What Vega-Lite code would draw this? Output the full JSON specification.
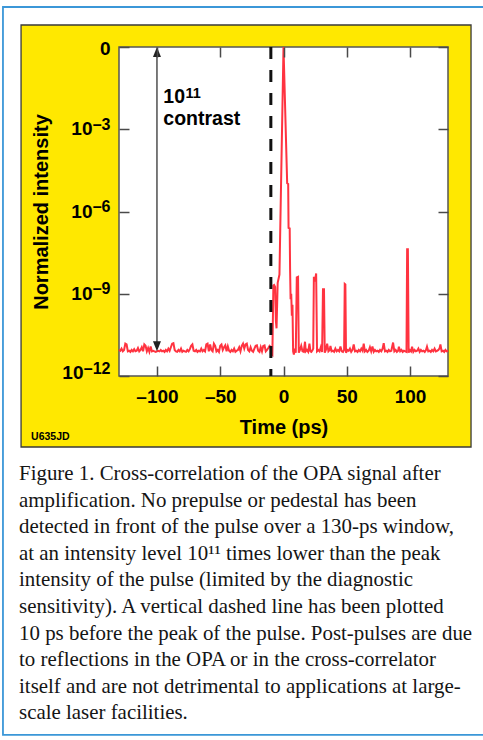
{
  "$schema": "https://vega.github.io/schema/vega-lite/v6.json",
  "width": 329,
  "height": 329,
  "autosize": {"type": "none"},
  "padding": {"left": 119, "top": 47, "right": 35, "bottom": 364},
  "background": "white",
  "config": {
    "font": "Liberation Sans",
    "view": {"stroke": null},
    "axis": {
      "domain": false,
      "grid": false,
      "labelFont": "Liberation Sans",
      "labelFontWeight": "bold",
      "labelFontSize": 19,
      "labelColor": "#000000",
      "titleFont": "Liberation Sans",
      "titleFontWeight": "bold",
      "titleFontSize": 20,
      "titleColor": "#000000",
      "tickColor": "#4a4a4a",
      "tickWidth": 1.5,
      "labelOverlap": false,
      "labelFlush": false
    }
  },
  "datasets": {
    "signal": [
      {"time_ps": -130, "log10_intensity": -11.05}, {"time_ps": -129, "log10_intensity": -11.08}, {"time_ps": -128, "log10_intensity": -11.0}, {"time_ps": -127, "log10_intensity": -11.1},
      {"time_ps": -126, "log10_intensity": -11.05}, {"time_ps": -125, "log10_intensity": -10.82}, {"time_ps": -124, "log10_intensity": -10.85}, {"time_ps": -123, "log10_intensity": -11.1},
      {"time_ps": -122, "log10_intensity": -11.08}, {"time_ps": -121, "log10_intensity": -11.12}, {"time_ps": -120, "log10_intensity": -11.05}, {"time_ps": -119, "log10_intensity": -11.1},
      {"time_ps": -118, "log10_intensity": -11.02}, {"time_ps": -117, "log10_intensity": -11.1}, {"time_ps": -116, "log10_intensity": -11.08}, {"time_ps": -115, "log10_intensity": -10.98},
      {"time_ps": -114, "log10_intensity": -11.1}, {"time_ps": -113, "log10_intensity": -11.05}, {"time_ps": -112, "log10_intensity": -10.95}, {"time_ps": -111, "log10_intensity": -11.1},
      {"time_ps": -110, "log10_intensity": -10.85}, {"time_ps": -109, "log10_intensity": -10.9}, {"time_ps": -108, "log10_intensity": -11.1}, {"time_ps": -107, "log10_intensity": -10.98},
      {"time_ps": -106, "log10_intensity": -11.12}, {"time_ps": -105, "log10_intensity": -10.92}, {"time_ps": -104, "log10_intensity": -11.1}, {"time_ps": -103, "log10_intensity": -11.08},
      {"time_ps": -102, "log10_intensity": -11.1}, {"time_ps": -101, "log10_intensity": -11.12}, {"time_ps": -100, "log10_intensity": -11.1}, {"time_ps": -99, "log10_intensity": -11.08},
      {"time_ps": -98, "log10_intensity": -11.1}, {"time_ps": -97, "log10_intensity": -11.05}, {"time_ps": -96, "log10_intensity": -11.1}, {"time_ps": -95, "log10_intensity": -11.08},
      {"time_ps": -94, "log10_intensity": -11.12}, {"time_ps": -93, "log10_intensity": -11.05}, {"time_ps": -92, "log10_intensity": -11.1}, {"time_ps": -91, "log10_intensity": -11.0},
      {"time_ps": -90, "log10_intensity": -11.08}, {"time_ps": -89, "log10_intensity": -10.95}, {"time_ps": -88, "log10_intensity": -10.82}, {"time_ps": -87, "log10_intensity": -10.8},
      {"time_ps": -86, "log10_intensity": -11.05}, {"time_ps": -85, "log10_intensity": -11.1}, {"time_ps": -84, "log10_intensity": -11.12}, {"time_ps": -83, "log10_intensity": -11.05},
      {"time_ps": -82, "log10_intensity": -11.1}, {"time_ps": -81, "log10_intensity": -11.0}, {"time_ps": -80, "log10_intensity": -11.12}, {"time_ps": -79, "log10_intensity": -11.08},
      {"time_ps": -78, "log10_intensity": -11.1}, {"time_ps": -77, "log10_intensity": -11.12}, {"time_ps": -76, "log10_intensity": -11.05}, {"time_ps": -75, "log10_intensity": -11.1},
      {"time_ps": -74, "log10_intensity": -11.02}, {"time_ps": -73, "log10_intensity": -10.9}, {"time_ps": -72, "log10_intensity": -10.85}, {"time_ps": -71, "log10_intensity": -11.08},
      {"time_ps": -70, "log10_intensity": -11.1}, {"time_ps": -69, "log10_intensity": -11.05}, {"time_ps": -68, "log10_intensity": -11.12}, {"time_ps": -67, "log10_intensity": -11.08},
      {"time_ps": -66, "log10_intensity": -11.1}, {"time_ps": -65, "log10_intensity": -11.0}, {"time_ps": -64, "log10_intensity": -11.1}, {"time_ps": -63, "log10_intensity": -11.05},
      {"time_ps": -62, "log10_intensity": -11.1}, {"time_ps": -61, "log10_intensity": -10.85}, {"time_ps": -60, "log10_intensity": -10.82}, {"time_ps": -59, "log10_intensity": -11.1},
      {"time_ps": -58, "log10_intensity": -10.85}, {"time_ps": -57, "log10_intensity": -11.05}, {"time_ps": -56, "log10_intensity": -11.1}, {"time_ps": -55, "log10_intensity": -10.82},
      {"time_ps": -54, "log10_intensity": -10.9}, {"time_ps": -53, "log10_intensity": -11.1}, {"time_ps": -52, "log10_intensity": -11.05}, {"time_ps": -51, "log10_intensity": -11.12},
      {"time_ps": -50, "log10_intensity": -10.9}, {"time_ps": -49, "log10_intensity": -10.85}, {"time_ps": -48, "log10_intensity": -11.05}, {"time_ps": -47, "log10_intensity": -10.95},
      {"time_ps": -46, "log10_intensity": -10.88}, {"time_ps": -45, "log10_intensity": -11.1}, {"time_ps": -44, "log10_intensity": -10.92}, {"time_ps": -43, "log10_intensity": -11.08},
      {"time_ps": -42, "log10_intensity": -11.12}, {"time_ps": -41, "log10_intensity": -11.05}, {"time_ps": -40, "log10_intensity": -11.1}, {"time_ps": -39, "log10_intensity": -11.0},
      {"time_ps": -38, "log10_intensity": -11.12}, {"time_ps": -37, "log10_intensity": -11.08}, {"time_ps": -36, "log10_intensity": -11.05}, {"time_ps": -35, "log10_intensity": -10.95},
      {"time_ps": -34, "log10_intensity": -11.1}, {"time_ps": -33, "log10_intensity": -10.9}, {"time_ps": -32, "log10_intensity": -10.82}, {"time_ps": -31, "log10_intensity": -11.0},
      {"time_ps": -30, "log10_intensity": -10.85}, {"time_ps": -29, "log10_intensity": -10.82}, {"time_ps": -28, "log10_intensity": -11.05}, {"time_ps": -27, "log10_intensity": -11.1},
      {"time_ps": -26, "log10_intensity": -10.95}, {"time_ps": -25, "log10_intensity": -11.08}, {"time_ps": -24, "log10_intensity": -11.12}, {"time_ps": -23, "log10_intensity": -11.0},
      {"time_ps": -22, "log10_intensity": -10.9}, {"time_ps": -21, "log10_intensity": -10.88}, {"time_ps": -20, "log10_intensity": -11.08}, {"time_ps": -19, "log10_intensity": -11.12},
      {"time_ps": -18, "log10_intensity": -10.95}, {"time_ps": -17, "log10_intensity": -11.1}, {"time_ps": -16, "log10_intensity": -10.9}, {"time_ps": -15, "log10_intensity": -10.88},
      {"time_ps": -14, "log10_intensity": -11.1}, {"time_ps": -13, "log10_intensity": -11.05}, {"time_ps": -12, "log10_intensity": -10.98}, {"time_ps": -11, "log10_intensity": -10.9},
      {"time_ps": -10, "log10_intensity": -10.95}, {"time_ps": -9.5, "log10_intensity": -11.2}, {"time_ps": -8.8, "log10_intensity": -11.23}, {"time_ps": -8.0, "log10_intensity": -8.7},
      {"time_ps": -7.4, "log10_intensity": -8.68}, {"time_ps": -6.6, "log10_intensity": -8.75}, {"time_ps": -6.0, "log10_intensity": -10.0}, {"time_ps": -5.5, "log10_intensity": -10.26},
      {"time_ps": -4.6, "log10_intensity": -8.6}, {"time_ps": -3.2, "log10_intensity": -8.3}, {"time_ps": 0, "log10_intensity": 0},
      {"time_ps": 2.9, "log10_intensity": -4.97}, {"time_ps": 3.7, "log10_intensity": -5.0}, {"time_ps": 4.0, "log10_intensity": -6.6}, {"time_ps": 4.9, "log10_intensity": -6.62},
      {"time_ps": 5.2, "log10_intensity": -8.1}, {"time_ps": 5.6, "log10_intensity": -9.2}, {"time_ps": 6.1, "log10_intensity": -9.0}, {"time_ps": 6.6, "log10_intensity": -9.8},
      {"time_ps": 7.1, "log10_intensity": -9.4}, {"time_ps": 7.6, "log10_intensity": -11.1}, {"time_ps": 8.2, "log10_intensity": -11.22}, {"time_ps": 9.0, "log10_intensity": -11.0},
      {"time_ps": 9.7, "log10_intensity": -11.15}, {"time_ps": 10.5, "log10_intensity": -8.4}, {"time_ps": 11.5, "log10_intensity": -8.38}, {"time_ps": 12.1, "log10_intensity": -11.15},
      {"time_ps": 13, "log10_intensity": -11.05}, {"time_ps": 14, "log10_intensity": -10.9}, {"time_ps": 15, "log10_intensity": -11.1}, {"time_ps": 16, "log10_intensity": -11.12},
      {"time_ps": 17, "log10_intensity": -10.75}, {"time_ps": 17.6, "log10_intensity": -11.1}, {"time_ps": 18.5, "log10_intensity": -11.05}, {"time_ps": 19.5, "log10_intensity": -11.12},
      {"time_ps": 20.5, "log10_intensity": -10.82}, {"time_ps": 21.3, "log10_intensity": -11.1}, {"time_ps": 22, "log10_intensity": -11.12}, {"time_ps": 23, "log10_intensity": -11.05},
      {"time_ps": 23.5, "log10_intensity": -11.0}, {"time_ps": 24.0, "log10_intensity": -8.38}, {"time_ps": 24.8, "log10_intensity": -8.55}, {"time_ps": 25.8, "log10_intensity": -8.26},
      {"time_ps": 26.5, "log10_intensity": -11.1}, {"time_ps": 27.5, "log10_intensity": -11.05}, {"time_ps": 28.5, "log10_intensity": -11.1}, {"time_ps": 29.5, "log10_intensity": -10.95},
      {"time_ps": 30.5, "log10_intensity": -11.12}, {"time_ps": 31.2, "log10_intensity": -8.84}, {"time_ps": 32.0, "log10_intensity": -8.84}, {"time_ps": 32.6, "log10_intensity": -11.15},
      {"time_ps": 33.5, "log10_intensity": -11.05}, {"time_ps": 34.5, "log10_intensity": -10.82}, {"time_ps": 35.5, "log10_intensity": -11.1}, {"time_ps": 36.5, "log10_intensity": -11.05},
      {"time_ps": 37.1, "log10_intensity": -10.9}, {"time_ps": 38, "log10_intensity": -11.1}, {"time_ps": 39, "log10_intensity": -11.08}, {"time_ps": 40, "log10_intensity": -11.12},
      {"time_ps": 41, "log10_intensity": -11.0}, {"time_ps": 42, "log10_intensity": -11.1}, {"time_ps": 43, "log10_intensity": -11.05}, {"time_ps": 44, "log10_intensity": -11.1},
      {"time_ps": 45, "log10_intensity": -10.92}, {"time_ps": 46, "log10_intensity": -11.1}, {"time_ps": 47, "log10_intensity": -11.12}, {"time_ps": 47.9, "log10_intensity": -11.05},
      {"time_ps": 48.4, "log10_intensity": -8.64}, {"time_ps": 48.9, "log10_intensity": -8.66}, {"time_ps": 49.4, "log10_intensity": -11.15}, {"time_ps": 50.5, "log10_intensity": -11.05},
      {"time_ps": 51.5, "log10_intensity": -11.08}, {"time_ps": 52.5, "log10_intensity": -11.0}, {"time_ps": 53.5, "log10_intensity": -11.12}, {"time_ps": 54.5, "log10_intensity": -11.05},
      {"time_ps": 55.5, "log10_intensity": -10.85}, {"time_ps": 56.5, "log10_intensity": -11.1}, {"time_ps": 57.5, "log10_intensity": -11.08}, {"time_ps": 58.5, "log10_intensity": -11.12},
      {"time_ps": 59.5, "log10_intensity": -11.05}, {"time_ps": 60.5, "log10_intensity": -11.1}, {"time_ps": 61.5, "log10_intensity": -11.0}, {"time_ps": 62.5, "log10_intensity": -11.08},
      {"time_ps": 63.4, "log10_intensity": -10.82}, {"time_ps": 64.3, "log10_intensity": -11.1}, {"time_ps": 65.3, "log10_intensity": -11.05}, {"time_ps": 66.3, "log10_intensity": -11.12},
      {"time_ps": 67.3, "log10_intensity": -11.08}, {"time_ps": 68.3, "log10_intensity": -10.95}, {"time_ps": 69.3, "log10_intensity": -11.1}, {"time_ps": 70.3, "log10_intensity": -10.92},
      {"time_ps": 71.3, "log10_intensity": -11.12}, {"time_ps": 72.3, "log10_intensity": -11.05}, {"time_ps": 73.3, "log10_intensity": -11.1}, {"time_ps": 74.3, "log10_intensity": -11.08},
      {"time_ps": 75.3, "log10_intensity": -11.12}, {"time_ps": 76.3, "log10_intensity": -11.05}, {"time_ps": 77.3, "log10_intensity": -11.1}, {"time_ps": 78.3, "log10_intensity": -11.0},
      {"time_ps": 79.2, "log10_intensity": -10.8}, {"time_ps": 80.2, "log10_intensity": -11.1}, {"time_ps": 81.2, "log10_intensity": -11.08}, {"time_ps": 82.2, "log10_intensity": -11.12},
      {"time_ps": 83.2, "log10_intensity": -11.05}, {"time_ps": 84.2, "log10_intensity": -11.1}, {"time_ps": 85.2, "log10_intensity": -11.08}, {"time_ps": 86.6, "log10_intensity": -10.78},
      {"time_ps": 87.6, "log10_intensity": -11.1}, {"time_ps": 88.6, "log10_intensity": -11.05}, {"time_ps": 89.6, "log10_intensity": -11.12}, {"time_ps": 90.6, "log10_intensity": -11.08},
      {"time_ps": 91.2, "log10_intensity": -10.93}, {"time_ps": 92.2, "log10_intensity": -11.1}, {"time_ps": 93.2, "log10_intensity": -11.05}, {"time_ps": 94.2, "log10_intensity": -11.12},
      {"time_ps": 95.2, "log10_intensity": -11.08}, {"time_ps": 96.2, "log10_intensity": -11.1}, {"time_ps": 97.2, "log10_intensity": -11.12}, {"time_ps": 97.7, "log10_intensity": -7.38},
      {"time_ps": 98.3, "log10_intensity": -7.38}, {"time_ps": 98.9, "log10_intensity": -11.15}, {"time_ps": 99.8, "log10_intensity": -11.05}, {"time_ps": 100.8, "log10_intensity": -11.1},
      {"time_ps": 101.6, "log10_intensity": -10.93}, {"time_ps": 102.6, "log10_intensity": -11.12}, {"time_ps": 103.6, "log10_intensity": -11.05}, {"time_ps": 104.6, "log10_intensity": -11.1},
      {"time_ps": 105.6, "log10_intensity": -11.08}, {"time_ps": 106.6, "log10_intensity": -11.0}, {"time_ps": 107.6, "log10_intensity": -11.12}, {"time_ps": 108.6, "log10_intensity": -11.05},
      {"time_ps": 109.6, "log10_intensity": -11.1}, {"time_ps": 110.6, "log10_intensity": -11.08}, {"time_ps": 111.6, "log10_intensity": -11.12}, {"time_ps": 112.6, "log10_intensity": -11.05},
      {"time_ps": 113.4, "log10_intensity": -10.93}, {"time_ps": 114.4, "log10_intensity": -11.1}, {"time_ps": 115.4, "log10_intensity": -11.08}, {"time_ps": 116.4, "log10_intensity": -11.12},
      {"time_ps": 117.4, "log10_intensity": -11.05}, {"time_ps": 118.4, "log10_intensity": -11.1}, {"time_ps": 119.4, "log10_intensity": -11.0}, {"time_ps": 120.4, "log10_intensity": -11.1},
      {"time_ps": 121.4, "log10_intensity": -11.08}, {"time_ps": 122.4, "log10_intensity": -11.05}, {"time_ps": 123.4, "log10_intensity": -10.98}, {"time_ps": 124, "log10_intensity": -10.85},
      {"time_ps": 125, "log10_intensity": -11.1}, {"time_ps": 126, "log10_intensity": -11.08}, {"time_ps": 127, "log10_intensity": -11.12}, {"time_ps": 128, "log10_intensity": -11.05},
      {"time_ps": 129, "log10_intensity": -11.1}, {"time_ps": 130, "log10_intensity": -11.08}
    ]
  },
  "data": {"values": [{}]},
  "resolve": {"axis": {"x": "independent", "y": "independent"}},
  "layer": [
    {
      "mark": {"type": "rect", "filled": false, "stroke": "#3b97d8", "strokeWidth": 1.8},
      "encoding": {
        "x": {"datum": -221.7, "type": "quantitative", "axis": null},
        "x2": {"datum": 160},
        "y": {"datum": 1.459, "type": "quantitative", "axis": null},
        "y2": {"datum": -25.09}
      }
    },
    {
      "mark": {"type": "rect", "fill": "#ffe800", "stroke": "#3a3a3a", "strokeWidth": 1.3},
      "encoding": {
        "x": {"datum": -207.4, "type": "quantitative", "axis": null},
        "x2": {"datum": 148.2},
        "y": {"datum": 0.802, "type": "quantitative", "axis": null},
        "y2": {"datum": -14.59}
      }
    },
    {
      "mark": {"type": "rect", "fill": "white", "stroke": "#555555", "strokeWidth": 1.5},
      "encoding": {
        "x": {"datum": -130, "type": "quantitative",
          "axis": {"orient": "top", "zindex": 2, "values": [-100, -50, 0, 50, 100], "labels": false, "tickSize": -10, "title": null}},
        "x2": {"datum": 130},
        "y": {"datum": 0, "type": "quantitative",
          "axis": {"orient": "right", "zindex": 2, "values": [0, -3, -6, -9, -12], "labels": false, "tickSize": -10, "title": null}},
        "y2": {"datum": -12}
      }
    },
    {
      "data": {"name": "signal"},
      "mark": {"type": "line", "color": "#ff3340", "strokeWidth": 2},
      "encoding": {
        "x": {"field": "time_ps", "type": "quantitative",
          "scale": {"domain": [-130, 130], "nice": false, "zero": false},
          "axis": {"orient": "bottom", "zindex": 2, "values": [-100, -50, 0, 50, 100], "tickSize": -10, "labelPadding": 21,
            "labelExpr": "datum.value < 0 ? '–' + abs(datum.value) : datum.label",
            "title": "Time (ps)", "titlePadding": 11}},
        "y": {"field": "log10_intensity", "type": "quantitative",
          "scale": {"domain": [-12, 0], "nice": false, "zero": false},
          "axis": {"orient": "left", "zindex": 2, "values": [0, -3, -6, -9, -12], "tickSize": -10,
            "labelExpr": "datum.value == 0 ? '' : '10'",
            "labelPadding": {"condition": {"test": "datum.value == -12", "value": 46}, "value": 37},
            "labelOffset": {"condition": {"test": "datum.value == -12", "value": -3.5}, "value": -0.5},
            "title": "Normalized intensity", "titlePadding": 10}}
      }
    },
    {
      "mark": {"type": "rule", "color": "#111111", "strokeWidth": 3, "strokeDash": [12, 11]},
      "encoding": {
        "x": {"datum": -10, "type": "quantitative", "axis": null},
        "y": {"datum": 0, "type": "quantitative",
          "axis": {"orient": "left", "zindex": 2, "values": [0, -3, -6, -9, -12], "ticks": false, "labelPadding": 9,
            "labelExpr": "datum.value == 0 ? '0' : '–' + abs(datum.value)",
            "labelFontSize": {"condition": {"test": "datum.value == 0", "value": 19}, "value": 16},
            "labelOffset": {"condition": [{"test": "datum.value == 0", "value": 1}, {"test": "datum.value == -12", "value": -8}], "value": -5}, 
            "title": null}},
        "y2": {"datum": -12}
      }
    },
    {
      "mark": {"type": "rule", "color": "#333333", "strokeWidth": 1.3},
      "encoding": {
        "x": {"datum": -100, "type": "quantitative", "axis": null},
        "y": {"datum": -0.3, "type": "quantitative", "axis": null},
        "y2": {"datum": -10.8}
      }
    },
    {
      "mark": {"type": "point", "shape": "M0,0L-0.4,1L0.4,1Z", "size": 400, "filled": true, "color": "#222222", "opacity": 1},
      "encoding": {
        "x": {"datum": -100, "type": "quantitative", "axis": null},
        "y": {"datum": 0, "type": "quantitative", "axis": null}
      }
    },
    {
      "mark": {"type": "point", "shape": "M0,0L-0.4,-1L0.4,-1Z", "size": 400, "filled": true, "color": "#222222", "opacity": 1},
      "encoding": {
        "x": {"datum": -100, "type": "quantitative", "axis": null},
        "y": {"datum": -11.1, "type": "quantitative", "axis": null}
      }
    },
    {
      "mark": {"type": "text", "text": "10", "align": "left", "baseline": "alphabetic", "fontSize": 19.5, "fontWeight": "bold", "color": "#000000"},
      "encoding": {
        "x": {"datum": -95.0, "type": "quantitative", "axis": null},
        "y": {"datum": -2.05, "type": "quantitative", "axis": null}
      }
    },
    {
      "mark": {"type": "text", "text": "11", "align": "left", "baseline": "alphabetic", "fontSize": 14.5, "fontWeight": "bold", "color": "#000000"},
      "encoding": {
        "x": {"datum": -77.4, "type": "quantitative", "axis": null},
        "y": {"datum": -1.87, "type": "quantitative", "axis": null}
      }
    },
    {
      "mark": {"type": "text", "text": "contrast", "align": "left", "baseline": "alphabetic", "fontSize": 19.5, "fontWeight": "bold", "color": "#000000"},
      "encoding": {
        "x": {"datum": -95.0, "type": "quantitative", "axis": null},
        "y": {"datum": -2.845, "type": "quantitative", "axis": null}
      }
    },
    {
      "mark": {"type": "text", "text": "U635JD", "align": "left", "baseline": "alphabetic", "fontSize": 10.5, "fontWeight": "bold", "color": "#000000"},
      "encoding": {
        "x": {"datum": -199.5, "type": "quantitative", "axis": null},
        "y": {"datum": -14.32, "type": "quantitative", "axis": null}
      }
    },
    {
      "mark": {"type": "text", "align": "left", "baseline": "alphabetic", "font": "Liberation Serif", "fontSize": 20.9, "lineHeight": 26.6, "color": "#151515",
        "text": [
          "Figure 1. Cross-correlation of the OPA signal after",
          "amplification. No prepulse or pedestal has been",
          "detected in front of the pulse over a 130-ps window,",
          "at an intensity level 10¹¹ times lower than the peak",
          "intensity of the pulse (limited by the diagnostic",
          "sensitivity). A vertical dashed line has been plotted",
          "10 ps before the peak of the pulse. Post-pulses are due",
          "to reflections in the OPA or in the cross-correlator",
          "itself and are not detrimental to applications at large-",
          "scale laser facilities."
        ]},
      "encoding": {
        "x": {"datum": -209.0, "type": "quantitative", "axis": null},
        "y": {"datum": -15.79, "type": "quantitative", "axis": null}
      }
    }
  ]
}
